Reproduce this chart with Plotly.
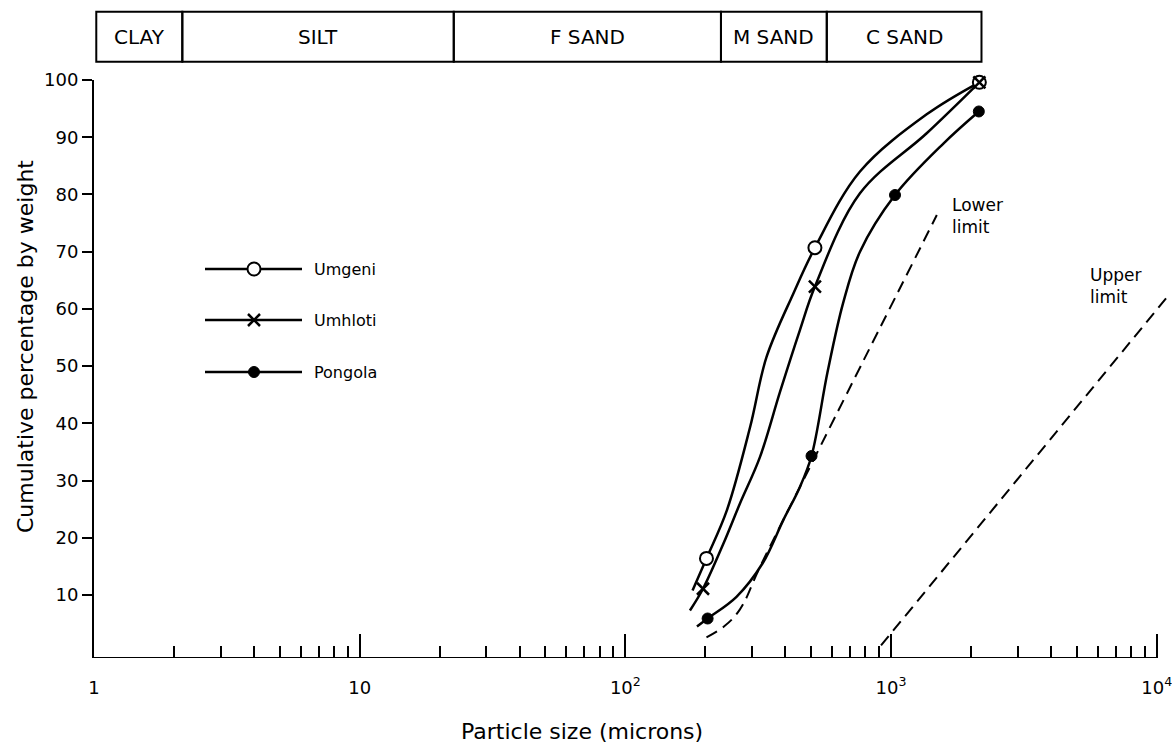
import numpy as np
import plotly.graph_objects as go

# ---------------- data ----------------
grade_names = ["CLAY", "SILT", "F SAND", "M SAND", "C SAND"]
grade_edges = [1.02, 2.15, 22.6, 229, 573, 2190]          # microns

umgeni_size = [202, 517, 2150]
umgeni_pct = [16.4, 70.7, 99.6]
umhloti_size = [196, 517, 2150]
umhloti_pct = [11.1, 63.9, 99.6]
pongola_size = [204, 502, 1035, 2140]
pongola_pct = [5.9, 34.3, 79.9, 94.5]

umgeni_curve_size = [179, 202, 241, 295, 340, 429, 517, 764, 1362, 2150]
umgeni_curve_pct = [10.8, 16.4, 24.8, 39.4, 51.6, 62.7, 70.7, 84.0, 94.0, 99.6]
umhloti_curve_size = [175, 196, 234, 270, 321, 382, 454, 517, 764, 1362, 2150]
umhloti_curve_pct = [7.3, 11.1, 19.0, 26.0, 34.1, 45.5, 56.3, 63.9, 80.2, 90.7, 99.6]
pongola_curve_size = [186, 204, 262, 329, 393, 454, 502, 577, 660, 764, 1035, 1574, 2140]
pongola_curve_pct = [4.5, 5.9, 9.7, 15.6, 23.1, 28.9, 34.3, 49.0, 61.0, 70.0, 79.9, 88.9, 94.5]

lower_limit_size = [202, 235, 270, 321, 503, 1487]
lower_limit_pct = [2.6, 4.5, 7.5, 14.9, 33.0, 76.4]
upper_limit_size = [917, 10960]
upper_limit_pct = [1.2, 62.1]

x_tick_vals = [1, 10, 100, 1000, 10000]
x_tick_text = ["1", "10", "10<sup>2</sup>", "10<sup>3</sup>", "10<sup>4</sup>"]
y_tick_vals = [10, 20, 30, 40, 50, 60, 70, 80, 90, 100]

legend_names = ["Umgeni", "Umhloti", "Pongola"]

# ---------------- layout geometry ----------------
W, H = 1172, 744
ML, MR, MT, MB = 94, 2, 80, 86
PW, PH = W - ML - MR, H - MT - MB
FONT = "DejaVu Sans"


def pxx(px):
    return (px - ML) / PW


def pxy(py):
    return (H - MB - py) / PH


styles = {
    "Umgeni": dict(symbol="circle", size=13, color="white", line=dict(color="black", width=2)),
    "Umhloti": dict(symbol="x-thin", size=12, color="black", line=dict(color="black", width=2.5)),
    "Pongola": dict(symbol="circle", size=11, color="black", line=dict(color="black", width=1)),
}

fig = go.Figure()

curves = [
    (umgeni_curve_size, umgeni_curve_pct),
    (umhloti_curve_size, umhloti_curve_pct),
    (pongola_curve_size, pongola_curve_pct),
]
for (cx, cy) in curves:
    fig.add_trace(go.Scatter(x=cx, y=cy, mode="lines",
                             line=dict(color="black", width=2.5, shape="spline", smoothing=1.0),
                             showlegend=False, hoverinfo="skip", cliponaxis=False))

for xs, ys in [(lower_limit_size, lower_limit_pct), (upper_limit_size, upper_limit_pct)]:
    fig.add_trace(go.Scatter(x=xs, y=ys, mode="lines",
                             line=dict(color="black", width=2, dash="12px,7px", shape="spline",
                                       smoothing=1.1),
                             showlegend=False, hoverinfo="skip"))

points = [("Umgeni", umgeni_size, umgeni_pct), ("Umhloti", umhloti_size, umhloti_pct),
          ("Pongola", pongola_size, pongola_pct)]
for name, xs, ys in points:
    fig.add_trace(go.Scatter(x=xs, y=ys, mode="markers", marker=styles[name], name=name,
                             showlegend=False, cliponaxis=False))

# ---------------- hand-drawn style legend (pixel overlay axes) ----------------
legend_y_px = [269, 320, 372]
for name, ly in zip(legend_names, legend_y_px):
    fig.add_trace(go.Scatter(x=[205, 302], y=[ly, ly], mode="lines", xaxis="x2", yaxis="y2",
                             line=dict(color="black", width=2.5), showlegend=False,
                             hoverinfo="skip", cliponaxis=False))
    fig.add_trace(go.Scatter(x=[254], y=[ly], mode="markers", xaxis="x2", yaxis="y2",
                             marker=styles[name], showlegend=False, hoverinfo="skip",
                             cliponaxis=False))
    fig.add_annotation(x=pxx(312), y=pxy(ly), xref="paper", yref="paper", text=name,
                       showarrow=False, xanchor="left", yanchor="middle",
                       font=dict(family=FONT, size=16, color="black"))

# ---------------- top grading bar ----------------
bar_top, bar_bot = 11.7, 61.7
for i, nm in enumerate(grade_names):
    fig.add_shape(type="rect", xref="x", yref="paper", x0=grade_edges[i], x1=grade_edges[i + 1],
                  y0=pxy(bar_bot), y1=pxy(bar_top), line=dict(color="black", width=2),
                  fillcolor="rgba(0,0,0,0)")
    xc = (np.log10(grade_edges[i]) + np.log10(grade_edges[i + 1])) / 2
    fig.add_annotation(x=xc, y=pxy((bar_top + bar_bot) / 2), xref="x", yref="paper", text=nm,
                       showarrow=False, xanchor="center", yanchor="middle",
                       font=dict(family=FONT, size=20, color="black"))

# x-axis baseline from 1 to 10^4
fig.add_shape(type="line", xref="x", yref="y", x0=x_tick_vals[0], x1=x_tick_vals[-1], y0=-1, y1=-1,
              line=dict(color="black", width=2))

# limit labels
fig.add_annotation(x=pxx(950), y=pxy(216), xref="paper", yref="paper", text="Lower<br>limit",
                   showarrow=False, xanchor="left", yanchor="middle", align="left",
                   font=dict(family=FONT, size=17, color="black"))
fig.add_annotation(x=pxx(1088), y=pxy(286), xref="paper", yref="paper", text="Upper<br>limit",
                   showarrow=False, xanchor="left", yanchor="middle", align="left",
                   font=dict(family=FONT, size=17, color="black"))

# axis titles
fig.add_annotation(x=pxx(582), y=pxy(731), xref="paper", yref="paper", text="Particle size (microns)",
                   showarrow=False, xanchor="center", yanchor="middle",
                   font=dict(family=FONT, size=22, color="black"))
fig.add_annotation(x=pxx(25), y=pxy(347), xref="paper", yref="paper",
                   text="Cumulative percentage by weight", textangle=-90,
                   showarrow=False, xanchor="center", yanchor="middle",
                   font=dict(family=FONT, size=22, color="black"))

minor_vals = [m * 10 ** k for k in range(4) for m in range(2, 10)]

fig.update_layout(
    width=W, height=H,
    margin=dict(l=ML, r=MR, t=MT, b=MB, autoexpand=False),
    paper_bgcolor="white", plot_bgcolor="white",
    font=dict(family=FONT, color="black"),
    showlegend=False,
    xaxis=dict(type="log", range=[0, 4.05], tickmode="array", tickvals=x_tick_vals, ticktext=x_tick_text,
               ticks="inside", ticklen=24, tickwidth=1.5, tickcolor="black", showgrid=False, zeroline=False,
               showline=False, tickfont=dict(family=FONT, size=18, color="black"), ticklabelstandoff=17,
               ticklabeloverflow="allow",
               minor=dict(tickmode="array", tickvals=minor_vals, ticks="inside", ticklen=12,
                          tickwidth=1.5, tickcolor="black", showgrid=False),
               automargin=False, fixedrange=True),
    yaxis=dict(range=[-1, 100], tickmode="array", tickvals=y_tick_vals, ticks="outside", ticklen=10,
               tickwidth=1.5, tickcolor="black", showline=True, linewidth=2, linecolor="black",
               showgrid=False, zeroline=False, tickfont=dict(family=FONT, size=18, color="black"),
               automargin=False, fixedrange=True),
    xaxis2=dict(overlaying="x", anchor="y2", range=[ML, W - MR], visible=False, fixedrange=True),
    yaxis2=dict(overlaying="y", anchor="x2", range=[H - MB, MT], visible=False, fixedrange=True),
)

fig.write_html("out.html", config={"displayModeBar": False},
               post_script="document.body.style.margin='0px';document.body.style.padding='0px';")
